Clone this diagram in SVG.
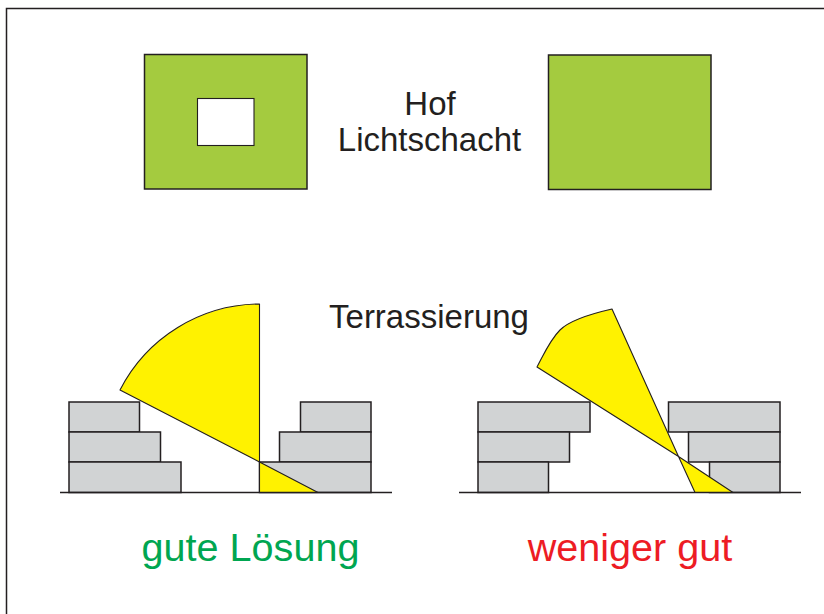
<svg xmlns="http://www.w3.org/2000/svg" width="824" height="614" viewBox="0 0 824 614">
<style>
.l{stroke:#231f20;stroke-width:1.5;stroke-linejoin:miter}
.g{fill:#a4cb3f}
.b{fill:#d1d3d4;stroke:#231f20;stroke-width:1.5}
.y{fill:#fff200;stroke:#231f20;stroke-width:1.1;stroke-linejoin:round}
.t{font-family:"Liberation Sans",Arial,sans-serif;fill:#231f20;font-size:33px;text-anchor:middle}
.c{font-size:39.6px}
</style>
<rect width="824" height="614" fill="#fff"/>
<path id="frame" d="M6.5 614V8.5H824" fill="none" stroke="#231f20" stroke-width="1.5"/>
<g id="hof-plan">
<rect class="g l" x="144.5" y="54.5" width="162.5" height="134.5"/>
<rect x="197.5" y="98.5" width="56.5" height="47" fill="#fff" stroke="#231f20" stroke-width="1.1"/>
</g>
<g id="lichtschacht-plan">
<rect class="g l" x="548.5" y="55" width="162.5" height="134.5"/>
</g>
<g id="labels">
<text class="t" x="430" y="115">Hof</text>
<text class="t" x="429.5" y="151">Lichtschacht</text>
<text class="t" x="429" y="328">Terrassierung</text>
</g>
<g id="gute-loesung">
<rect class="b" x="69" y="402" width="70.5" height="30"/>
<rect class="b" x="69" y="432" width="91.5" height="30"/>
<rect class="b" x="69" y="462" width="112" height="30.5"/>
<rect class="b" x="300.5" y="402" width="70.5" height="30"/>
<rect class="b" x="279.5" y="432" width="91.5" height="30"/>
<rect class="b" x="259.5" y="462" width="111.5" height="30.5"/>
<path class="y" d="M259.5 462V304A158 158 0 0 0 120 390Z"/>
<path class="y" d="M259.5 462V492.5H318Z"/>
<path d="M60 492.5H392" class="l" fill="none"/>
<text class="t c" x="250.5" y="561" style="fill:#00a651">gute Lösung</text>
</g>
<g id="weniger-gut">
<rect class="b" x="478" y="402" width="112" height="30"/>
<rect class="b" x="478" y="432" width="91.5" height="30"/>
<rect class="b" x="478" y="462" width="70.5" height="30.5"/>
<rect class="b" x="668.5" y="402" width="111.5" height="30"/>
<rect class="b" x="688.5" y="432" width="91.5" height="30"/>
<rect class="b" x="709.5" y="462" width="70.5" height="30.5"/>
<path class="y" d="M678.5 456.5L537 367C545 352 550 340 560 330C570 320 590 314 612 309Z"/>
<path class="y" d="M678.5 456.5L733 492.5H695Z"/>
<path d="M459 492.5H801" class="l" fill="none"/>
<text class="t c" x="630" y="561" style="fill:#ed1c24">weniger gut</text>
</g>
</svg>
